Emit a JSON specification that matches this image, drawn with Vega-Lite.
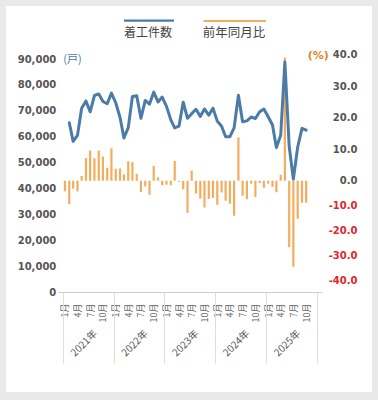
{
  "$schema": "https://vega.github.io/schema/vega-lite/v6.json",
  "width": 366,
  "height": 386,
  "autosize": "none",
  "padding": {"left": 6, "top": 6, "right": 6, "bottom": 8},
  "background": "#e9e9e9",
  "config": {"view": {"fill": "white", "stroke": null}, "font": "DejaVu Sans"},
  "data": {"values": [
    {"date": "2021-01-01", "yoy": -4.2},
    {"date": "2021-02-01", "starts": 65400, "yoy": -9.4},
    {"date": "2021-03-01", "starts": 58200, "yoy": -3.2},
    {"date": "2021-04-01", "starts": 60500, "yoy": -4.3},
    {"date": "2021-05-01", "starts": 71000, "yoy": 1.5},
    {"date": "2021-06-01", "starts": 73800, "yoy": 7.2},
    {"date": "2021-07-01", "starts": 69600, "yoy": 9.6},
    {"date": "2021-08-01", "starts": 75900, "yoy": 7.1},
    {"date": "2021-09-01", "starts": 76500, "yoy": 9.6},
    {"date": "2021-10-01", "starts": 73600, "yoy": 7.7},
    {"date": "2021-11-01", "starts": 72700, "yoy": 4.1},
    {"date": "2021-12-01", "starts": 76800, "yoy": 10.3},
    {"date": "2022-01-01", "starts": 73100, "yoy": 3.8},
    {"date": "2022-02-01", "starts": 67400, "yoy": 3.9},
    {"date": "2022-03-01", "starts": 59500, "yoy": 2.0},
    {"date": "2022-04-01", "starts": 63500, "yoy": 6.2},
    {"date": "2022-05-01", "starts": 75500, "yoy": 5.9},
    {"date": "2022-06-01", "starts": 75800, "yoy": 2.2},
    {"date": "2022-07-01", "starts": 67100, "yoy": -4.5},
    {"date": "2022-08-01", "starts": 74000, "yoy": -2.3},
    {"date": "2022-09-01", "starts": 72600, "yoy": -5.6},
    {"date": "2022-10-01", "starts": 77200, "yoy": 4.7},
    {"date": "2022-11-01", "starts": 73400, "yoy": 1.1},
    {"date": "2022-12-01", "starts": 75300, "yoy": -1.8},
    {"date": "2023-01-01", "starts": 71700, "yoy": -1.6},
    {"date": "2023-02-01", "starts": 66500, "yoy": -1.8},
    {"date": "2023-03-01", "starts": 63400, "yoy": 6.3},
    {"date": "2023-04-01", "starts": 64100, "yoy": -0.4},
    {"date": "2023-05-01", "starts": 73300, "yoy": -3.4},
    {"date": "2023-06-01", "starts": 67100, "yoy": -12.8},
    {"date": "2023-07-01", "starts": 68900, "yoy": 3.2},
    {"date": "2023-08-01", "starts": 70600, "yoy": -5.1},
    {"date": "2023-09-01", "starts": 67800, "yoy": -7.2},
    {"date": "2023-10-01", "starts": 70700, "yoy": -10.7},
    {"date": "2023-11-01", "starts": 68300, "yoy": -7.3},
    {"date": "2023-12-01", "starts": 71000, "yoy": -6.9},
    {"date": "2024-01-01", "starts": 66000, "yoy": -9.6},
    {"date": "2024-02-01", "starts": 64000, "yoy": -4.7},
    {"date": "2024-03-01", "starts": 60000, "yoy": -8.0},
    {"date": "2024-04-01", "starts": 60000, "yoy": -9.2},
    {"date": "2024-05-01", "starts": 63400, "yoy": -14.0},
    {"date": "2024-06-01", "starts": 76000, "yoy": 13.8},
    {"date": "2024-07-01", "starts": 65800, "yoy": -6.0},
    {"date": "2024-08-01", "starts": 66100, "yoy": -7.4},
    {"date": "2024-09-01", "starts": 67600, "yoy": -1.2},
    {"date": "2024-10-01", "starts": 67000, "yoy": -6.5},
    {"date": "2024-11-01", "starts": 69600, "yoy": -1.0},
    {"date": "2024-12-01", "starts": 70700, "yoy": -2.8},
    {"date": "2025-01-01", "starts": 67700, "yoy": -1.2},
    {"date": "2025-02-01", "starts": 64500, "yoy": -2.4},
    {"date": "2025-03-01", "starts": 55800, "yoy": -4.6},
    {"date": "2025-04-01", "starts": 60500, "yoy": 1.9},
    {"date": "2025-05-01", "starts": 88800, "yoy": 39.1},
    {"date": "2025-06-01", "starts": 56200, "yoy": -26.6},
    {"date": "2025-07-01", "starts": 43600, "yoy": -34.4},
    {"date": "2025-08-01", "starts": 55900, "yoy": -15.2},
    {"date": "2025-09-01", "starts": 63200, "yoy": -8.8},
    {"date": "2025-10-01", "starts": 62500, "yoy": -8.8}
  ]},
  "layer": [
    {
      "mark": {"type": "bar", "size": 2.2, "clip": false},
      "encoding": {
        "x": {
          "field": "date", "type": "temporal",
          "scale": {"type": "utc", "domain": [{"year": 2020, "month": 12, "date": 16, "hours": 12, "utc": true}, {"year": 2025, "month": 12, "date": 16, "hours": 12, "utc": true}], "range": [51.8, 315.8]},
          "axis": {
            "orient": "bottom", "offset": -100, "title": null, "grid": false,
            "values": [
              {"year": 2021, "month": 1, "date": 1, "utc": true}, {"year": 2021, "month": 4, "date": 1, "utc": true}, {"year": 2021, "month": 7, "date": 1, "utc": true}, {"year": 2021, "month": 10, "date": 1, "utc": true},
              {"year": 2022, "month": 1, "date": 1, "utc": true}, {"year": 2022, "month": 4, "date": 1, "utc": true}, {"year": 2022, "month": 7, "date": 1, "utc": true}, {"year": 2022, "month": 10, "date": 1, "utc": true},
              {"year": 2023, "month": 1, "date": 1, "utc": true}, {"year": 2023, "month": 4, "date": 1, "utc": true}, {"year": 2023, "month": 7, "date": 1, "utc": true}, {"year": 2023, "month": 10, "date": 1, "utc": true},
              {"year": 2024, "month": 1, "date": 1, "utc": true}, {"year": 2024, "month": 4, "date": 1, "utc": true}, {"year": 2024, "month": 7, "date": 1, "utc": true}, {"year": 2024, "month": 10, "date": 1, "utc": true},
              {"year": 2025, "month": 1, "date": 1, "utc": true}, {"year": 2025, "month": 4, "date": 1, "utc": true}, {"year": 2025, "month": 7, "date": 1, "utc": true}, {"year": 2025, "month": 10, "date": 1, "utc": true}
            ],
            "labelExpr": "utcFormat(datum.value, '%-m') + '月'",
            "labelAngle": -90, "labelAlign": "right", "labelBaseline": "middle",
            "labelPadding": 11, "ticks": false, "tickSize": 0,
            "domain": true, "domainColor": "#cccccc", "domainWidth": 1,
            "labelFont": "Noto Sans CJK JP", "labelFontSize": 9, "labelColor": "#666666",
            "labelOverlap": false, "labelFlush": false, "labelBound": false
          }
        },
        "y": {
          "field": "yoy", "type": "quantitative",
          "scale": {"domain": [-40, 0, 40], "range": [274.7, 174.7, 48.9], "nice": false, "zero": false},
          "axis": {
            "orient": "right", "offset": -50.2, "grid": false, "domain": false, "ticks": false, "tickSize": 0,
            "values": [-40, -30, -20, -10, 0, 10, 20, 30, 40],
            "labelExpr": "(datum.value < 0 ? '-' : '') + format(abs(datum.value), '.1f')",
            "labelAlign": "right", "labelPadding": 35.2,
            "labelFont": "DejaVu Sans", "labelFontWeight": "bold", "labelFontSize": 10,
            "labelColor": {"condition": {"test": "datum.value < 0", "value": "#e0282a"}, "value": "#555555"},
            "labelOverlap": false, "labelFlush": false, "labelBound": false,
            "title": "(%)", "titleAngle": 0, "titleX": 6.5, "titleY": 49, "titleAlign": "right", "titleBaseline": "middle",
            "titleColor": "#e8821e", "titleFont": "DejaVu Sans", "titleFontSize": 11, "titleFontWeight": "bold"
          }
        },
        "fill": {
          "datum": "前年同月比",
          "scale": {"range": ["#f2ad5e"]},
          "legend": {
            "orient": "none", "legendX": 184.3, "legendY": 21, "title": null, "padding": 0,
            "symbolType": "M 7 -13.3 H 69.4 V -11.3 H 7 Z", "symbolSize": 4, "symbolStrokeWidth": 0,
            "labelFont": "Noto Sans CJK JP", "labelFontSize": 12.5, "labelColor": "#444444", "labelOffset": 0
          }
        }
      }
    },
    {
      "mark": {"type": "line", "strokeWidth": 3, "strokeJoin": "round", "strokeCap": "round", "clip": false},
      "encoding": {
        "x": {
          "field": "date", "type": "temporal",
          "scale": {"type": "utc", "domain": [{"year": 2020, "month": 12, "date": 16, "hours": 12, "utc": true}, {"year": 2025, "month": 12, "date": 16, "hours": 12, "utc": true}], "range": [51.8, 315.8]},
          "axis": {
            "orient": "bottom", "offset": -100, "title": null, "grid": false, "domain": false,
            "values": [
              {"year": 2020, "month": 12, "date": 16, "hours": 12, "utc": true},
              {"year": 2021, "month": 12, "date": 16, "hours": 12, "utc": true},
              {"year": 2022, "month": 12, "date": 16, "hours": 12, "utc": true},
              {"year": 2023, "month": 12, "date": 16, "hours": 12, "utc": true},
              {"year": 2024, "month": 12, "date": 16, "hours": 12, "utc": true},
              {"year": 2025, "month": 12, "date": 16, "hours": 12, "utc": true}
            ],
            "labelExpr": "utcyear(datum.value) >= 2025 ? '' : (utcyear(datum.value) + 1) + '年'",
            "ticks": true, "tickSize": 71, "tickColor": "#dddddd", "tickWidth": 1,
            "labelAngle": -45, "labelAlign": "center", "labelBaseline": "middle",
            "labelOffset": 21, "labelPadding": -20,
            "labelFont": "Noto Sans CJK JP", "labelFontSize": 10, "labelColor": "#555555",
            "labelOverlap": false, "labelFlush": false, "labelBound": false
          }
        },
        "y": {
          "field": "starts", "type": "quantitative",
          "scale": {"domain": [0, 90000], "range": [286, 53], "nice": false, "zero": false},
          "axis": {
            "orient": "left", "offset": -51.8, "grid": false, "domain": false, "ticks": false, "tickSize": 0,
            "values": [0, 10000, 20000, 30000, 40000, 50000, 60000, 70000, 80000, 90000],
            "format": ",d", "labelPadding": 2,
            "labelFont": "DejaVu Sans", "labelFontWeight": "bold", "labelFontSize": 10, "labelColor": "#555555",
            "labelOverlap": false, "labelFlush": false, "labelBound": false,
            "title": "(戸)", "titleAngle": 0, "titleX": 5, "titleY": 53, "titleAlign": "left", "titleBaseline": "middle",
            "titleColor": "#4b7ca8", "titleFont": "Noto Sans CJK JP", "titleFontSize": 11, "titleFontWeight": "normal"
          }
        },
        "stroke": {
          "datum": "着工件数",
          "scale": {"range": ["#4b7ca8"]},
          "legend": {
            "orient": "none", "legendX": 106, "legendY": 21, "title": null, "padding": 0,
            "symbolType": "M 6 -12.3 H 56", "symbolSize": 4, "symbolStrokeWidth": 2.2, "symbolFillColor": "transparent",
            "labelFont": "Noto Sans CJK JP", "labelFontSize": 12, "labelColor": "#444444", "labelOffset": 0
          }
        }
      }
    }
  ],
  "resolve": {"scale": {"y": "independent"}, "axis": {"x": "independent", "y": "independent"}}
}
